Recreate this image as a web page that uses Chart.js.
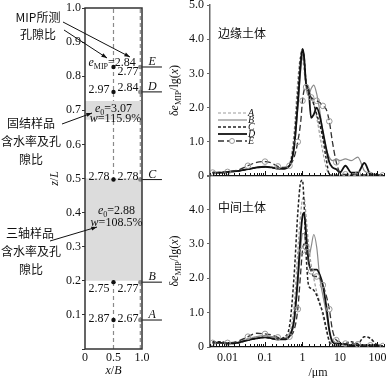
<!DOCTYPE html>
<html>
<head>
<meta charset="utf-8">
<script src="https://cdn.jsdelivr.net/npm/chart.js@4.4.1/dist/chart.umd.min.js"></script>
<style>
  body { margin: 0; background: #fff; width: 391px; height: 378px; position: relative; overflow: hidden; }
  canvas { position: absolute; }
</style>
</head>
<body>
<canvas id="left" width="200" height="378" style="left:0;top:0"></canvas>
<canvas id="edge" width="231" height="190" style="left:160px;top:0"></canvas>
<canvas id="mid" width="231" height="208" style="left:160px;top:170px"></canvas>
<script>
// ---- left panel data ----
const levelNames = ['A', 'B', 'C', 'D', 'E'];
const levelY = [0.085, 0.196, 0.497, 0.754, 0.827];      // z/L of sampling points
const centreRatio = [2.87, 2.75, 2.78, 2.97, 2.84];     // e_MIP at x/B = 0.5
const edgeRatio = [2.67, 2.77, 2.78, 2.84, 2.77];       // e_MIP at x/B = 1.0
const centreX = 0.5;
const edgeX = 0.97;
const triaxialBand = [0.2, 0.5];
const consolBand = [0.672, 0.727];
const triaxialSample = ['2.88', '108.5%'];
const consolSample = ['3.07', '115.9%'];

// ---- right panels data ----
const poreSize = [0.004, 0.007, 0.01, 0.02, 0.035, 0.06, 0.1, 0.15, 0.22, 0.32, 0.45, 0.6, 0.75, 0.9, 1.0, 1.1, 1.25,
  1.45, 1.7, 2.0, 2.4, 2.9, 3.5, 4.3, 5.2, 6.3, 8, 10, 14, 20, 30, 45, 65, 100, 140];

const edgeA = [0.08,0.1,0.12,0.15,0.2,0.24,0.26,0.25,0.22,0.22,0.35,1.3,2.8,3.5,3.45,3.1,2.6,2.4,2.3,2.1,1.7,1.2,0.7,0.25,0.05,0.02,0.02,0.02,0.02,0.02,0.02,0.02,0.02,0.02,0.02];
const edgeB = [0.1,0.1,0.12,0.15,0.2,0.24,0.26,0.25,0.2,0.2,0.3,0.8,2.0,3.1,3.55,3.4,2.6,2.35,2.55,2.66,2.4,1.9,1.3,0.8,0.55,0.45,0.5,0.45,0.5,0.45,0.55,0.15,0.08,0.05,0.03];
const edgeC = [0.1,0.1,0.12,0.15,0.2,0.25,0.27,0.25,0.22,0.22,0.32,1.0,2.4,3.5,3.7,3.5,2.7,2.5,2.3,2.1,1.8,1.5,1.1,0.5,0.05,0.02,0.02,0.02,0.02,0.02,0.02,0.02,0.02,0.02,0.02];
const edgeD = [0.1,0.1,0.12,0.15,0.2,0.25,0.27,0.25,0.22,0.22,0.3,0.85,2.1,3.3,3.72,3.5,2.7,2.55,1.7,1.8,2.0,1.75,1.3,0.8,0.4,0.25,0.2,0.1,0.3,0.1,0.1,0.38,0.05,0.02,0.02];
const edgeE = [0.1,0.1,0.12,0.18,0.3,0.4,0.42,0.38,0.28,0.25,0.3,0.55,1.0,1.6,2.2,2.5,2.6,2.45,2.3,2.25,2.2,2.15,2.05,1.95,1.6,1.0,0.4,0.1,0.05,0.05,0.05,0.03,0.03,0.02,0.02];

const midA = [0.15,0.15,0.12,0.15,0.25,0.3,0.32,0.3,0.25,0.25,0.4,1.2,2.8,3.9,4.3,4.35,3.8,3.0,2.4,2.0,1.6,1.3,0.9,0.5,0.2,0.08,0.05,0.05,0.05,0.05,0.05,0.05,0.05,0.05,0.03];
const midB = [0.15,0.12,0.1,0.13,0.22,0.3,0.33,0.3,0.25,0.24,0.3,0.7,1.8,2.9,3.3,3.3,2.9,2.6,2.9,3.27,2.9,2.0,1.5,1.0,0.45,0.2,0.12,0.1,0.08,0.06,0.05,0.05,0.05,0.05,0.03];
const midC = [0.15,0.15,0.1,0.12,0.2,0.25,0.28,0.25,0.22,0.28,0.6,2.1,3.9,4.8,4.85,4.2,2.7,1.8,1.7,1.65,1.5,1.25,1.0,0.55,0.15,0.02,0.02,0.05,0.1,0.15,0.1,0.3,0.25,0.05,0.02];
const midD = [0.12,0.12,0.1,0.13,0.2,0.25,0.28,0.25,0.22,0.22,0.32,0.8,2.0,3.3,3.8,3.9,3.3,2.5,2.25,2.25,2.25,2.1,1.8,1.2,0.5,0.15,0.1,0.1,0.08,0.05,0.05,0.05,0.05,0.05,0.03];
const midE = [0.12,0.12,0.12,0.18,0.3,0.4,0.38,0.35,0.28,0.25,0.3,0.5,1.1,2.2,2.8,3.0,2.9,2.5,2.2,2.05,2.05,2.0,1.8,1.5,1.1,0.5,0.2,0.15,0.1,0.1,0.08,0.05,0.05,0.05,0.03];

const SERIF = '"Liberation Serif","DejaVu Serif",serif';
const CJK = '"Noto Sans CJK SC","Noto Sans CJK JP",sans-serif';
const f12 = '12px ' + SERIF, i12 = 'italic 12px ' + SERIF, s8 = '8px ' + SERIF;

// draw a run of text pieces with different fonts (for subscripts / italics)
function rich(ctx, x, y, parts, align) {
  let w = 0;
  parts.forEach(p => { ctx.font = p.f; p.w = ctx.measureText(p.t).width; w += p.w; });
  let cx = align === 'center' ? x - w / 2 : align === 'right' ? x - w : x;
  ctx.textAlign = 'left';
  ctx.textBaseline = 'alphabetic';
  parts.forEach(p => { ctx.font = p.f; ctx.fillText(p.t, cx, y + (p.dy || 0)); cx += p.w; });
}

function arrow(ctx, x1, y1, x2, y2) {
  const a = Math.atan2(y2 - y1, x2 - x1);
  ctx.beginPath();
  ctx.moveTo(x1, y1); ctx.lineTo(x2, y2); ctx.stroke();
  ctx.beginPath();
  ctx.moveTo(x2, y2);
  ctx.lineTo(x2 - 6 * Math.cos(a - 0.35), y2 - 6 * Math.sin(a - 0.35));
  ctx.lineTo(x2 - 6 * Math.cos(a + 0.35), y2 - 6 * Math.sin(a + 0.35));
  ctx.closePath(); ctx.fill();
}

function zeroPad(s) { s.paddingTop = 0; s.paddingBottom = 0; s.paddingLeft = 0; s.paddingRight = 0; }

// ---------- left panel ----------
function band(r) {
  return {
    data: [{ x: 0, y: r[1] }, { x: 1, y: r[1] }], showLine: true, pointRadius: 0,
    borderColor: 'rgba(0,0,0,0)', borderWidth: 0, fill: { value: r[0] }, backgroundColor: '#dcdcdc'
  };
}
function vline(x) {
  return {
    data: [{ x, y: 0 }, { x, y: 1 }], showLine: true, pointRadius: 0,
    borderColor: '#8a8a8a', borderWidth: 1.2, borderDash: [4, 3]
  };
}

const leftDecor = {
  id: 'leftDecor',
  afterDatasetsDraw(chart) {
    const { ctx, chartArea: ca, scales: { x, y } } = chart;
    ctx.save();
    ctx.strokeStyle = '#333'; ctx.lineWidth = 1.5;
    ctx.strokeRect(ca.left, ca.top, ca.right - ca.left, ca.bottom - ca.top);
    ctx.fillStyle = '#111';
    const cx = x.getPixelForValue(centreX);
    const dy = [2, 10, 0, 1, 0];
    levelY.forEach((lv, i) => {
      const py = y.getPixelForValue(lv);
      if (i === 4) {
        rich(ctx, cx - 25, py - 1, [{ t: 'e', f: i12 }, { t: 'MIP', f: s8, dy: 3 }, { t: '=' + centreRatio[i], f: f12 }], 'left');
        rich(ctx, cx + 4, py + 8, [{ t: edgeRatio[i].toFixed(2), f: f12 }], 'left');
      } else {
        rich(ctx, cx - 4, py + dy[i], [{ t: centreRatio[i].toFixed(2), f: f12 }], 'right');
        rich(ctx, cx + 4, py + dy[i] - (i === 3 ? 2 : 0), [{ t: edgeRatio[i].toFixed(2), f: f12 }], 'left');
      }
      rich(ctx, x.getPixelForValue(1.18), py - 2, [{ t: levelNames[i], f: i12 }], 'center');
    });
    // sample water content / void ratio
    const bc = y.getPixelForValue((consolBand[0] + consolBand[1]) / 2);
    rich(ctx, cx, bc + 2, [{ t: 'e', f: i12 }, { t: '0', f: s8, dy: 3 }, { t: '=' + consolSample[0], f: f12 }], 'center');
    rich(ctx, cx + 2, bc + 12, [{ t: 'w', f: i12 }, { t: '=' + consolSample[1], f: f12 }], 'center');
    const bt = y.getPixelForValue(0.38);
    rich(ctx, cx + 3, bt - 5, [{ t: 'e', f: i12 }, { t: '0', f: s8, dy: 3 }, { t: '=' + triaxialSample[0], f: f12 }], 'center');
    rich(ctx, cx + 3, bt + 7, [{ t: 'w', f: i12 }, { t: '=' + triaxialSample[1], f: f12 }], 'center');
    // Chinese annotations
    ctx.font = '12px ' + CJK; ctx.textAlign = 'center'; ctx.textBaseline = 'middle';
    ctx.fillText('MIP所测', 38, 17);
    ctx.fillText('孔隙比', 38, 34);
    ctx.fillText('固结样品', 31, 123);
    ctx.fillText('含水率及孔', 31, 141);
    ctx.fillText('隙比', 31, 159);
    ctx.fillText('三轴样品', 30, 233);
    ctx.fillText('含水率及孔', 31, 251);
    ctx.fillText('隙比', 31, 269);
    ctx.strokeStyle = '#111'; ctx.lineWidth = 1;
    arrow(ctx, 63, 22, 130, 57);
    arrow(ctx, 64, 30, 107, 58);
    arrow(ctx, 62, 124, 92, 113);
    arrow(ctx, 50, 241, 97, 227);
    // axis titles
    rich(ctx, (ca.left + ca.right) / 2, 374, [{ t: 'x', f: i12 }, { t: '/', f: f12 }, { t: 'B', f: i12 }], 'center');
    ctx.translate(58, (ca.top + ca.bottom) / 2);
    ctx.rotate(-Math.PI / 2);
    rich(ctx, 0, 0, [{ t: 'z', f: i12 }, { t: '/', f: f12 }, { t: 'L', f: i12 }], 'center');
    ctx.restore();
  }
};

new Chart(document.getElementById('left'), {
  type: 'scatter',
  data: {
    datasets: [
      { data: levelY.map(v => ({ x: centreX, y: v })), pointRadius: 2.2, pointBackgroundColor: '#111', pointBorderWidth: 0 },
      { data: levelY.map(v => ({ x: edgeX, y: v })), pointRadius: 2.2, pointBackgroundColor: '#888', pointBorderWidth: 0 },
      band(triaxialBand),
      band(consolBand),
      vline(centreX),
      vline(edgeX),
      ...levelY.map(v => ({
        data: [{ x: 1, y: v }, { x: 1.35, y: v }], showLine: true, pointRadius: 0,
        borderColor: '#222', borderWidth: 1.1, clip: false
      }))
    ]
  },
  options: {
    responsive: false, animation: false,
    layout: { padding: { top: 8, right: 58, left: 0, bottom: 0 } },
    plugins: { legend: { display: false }, tooltip: { enabled: false } },
    scales: {
      x: {
        type: 'linear', min: 0, max: 1,
        afterBuildTicks: s => { s.ticks = [{ value: 0 }, { value: 0.5 }, { value: 1 }]; },
        grid: { display: false, drawTicks: false }, border: { display: false },
        ticks: { padding: 2, color: '#111', font: { family: SERIF, size: 12 }, maxRotation: 0,
          callback: v => v === 0 ? '0' : v.toFixed(1) },
        afterFit: s => { s.height = 29; zeroPad(s); }
      },
      y: {
        min: 0, max: 1,
        grid: { drawOnChartArea: false, tickLength: 3, color: '#333' }, border: { display: false },
        ticks: { stepSize: 0.1, padding: 1, color: '#111', font: { family: SERIF, size: 12 },
          callback: v => v === 0 ? '' : v.toFixed(1) },
        afterFit: s => { s.width = 85; zeroPad(s); }
      }
    }
  },
  plugins: [leftDecor]
});

// ---------- right panels ----------
const lineStyles = {
  A: { borderColor: '#9b9b9b', borderWidth: 1.2, borderDash: [3, 2] },
  B: { borderColor: '#8a8a8a', borderWidth: 1.2, borderDash: [] },
  C: { borderColor: '#222', borderWidth: 1.5, borderDash: [3, 2] },
  D: { borderColor: '#111', borderWidth: 1.8, borderDash: [] },
  E: { borderColor: '#333', borderWidth: 1.3, borderDash: [6, 3] }
};

function makeSeries(values, name) {
  return Object.assign({
    label: name,
    data: poreSize.map((x, i) => ({ x, y: values[i] })),
    showLine: true, cubicInterpolationMode: 'monotone', fill: false,
    pointRadius: name === 'E' ? (c => c.dataIndex % 2 ? 0 : 2.8) : 0,
    pointBorderColor: '#999', pointBackgroundColor: 'rgba(255,255,255,0)', pointBorderWidth: 1
  }, lineStyles[name]);
}

function isDecade(v) { const l = Math.log10(v); return Math.abs(l - Math.round(l)) < 1e-6; }

function panelDecor(opts) {
  return {
    id: 'panelDecor',
    afterDatasetsDraw(chart) {
      const { ctx, chartArea: ca, scales: { x } } = chart;
      ctx.save();
      // inward log ticks
      ctx.strokeStyle = '#111'; ctx.lineWidth = 1;
      x.ticks.forEach(t => {
        if (t.value < x.min || t.value > x.max) return;
        const px = Math.round(x.getPixelForValue(t.value)) + 0.5;
        const len = isDecade(t.value) ? 5 : 3;
        ctx.beginPath(); ctx.moveTo(px, ca.bottom); ctx.lineTo(px, ca.bottom - len); ctx.stroke();
      });
      ctx.fillStyle = '#111';
      ctx.font = '12px ' + CJK; ctx.textAlign = 'left'; ctx.textBaseline = 'middle';
      ctx.fillText(opts.label, ca.left + 8, ca.top + opts.labelDy);
      if (opts.legend) {
        levelNames.forEach((n, i) => {
          const st = lineStyles[n];
          const ly = ca.top + 108 + i * 7;
          ctx.strokeStyle = st.borderColor; ctx.lineWidth = st.borderWidth;
          ctx.setLineDash(st.borderDash);
          ctx.beginPath(); ctx.moveTo(ca.left + 8, ly); ctx.lineTo(ca.left + 37, ly); ctx.stroke();
          ctx.setLineDash([]);
          if (n === 'E') {
            ctx.strokeStyle = '#999'; ctx.lineWidth = 1;
            ctx.beginPath(); ctx.arc(ca.left + 22, ly, 2.5, 0, Math.PI * 2);
            ctx.fillStyle = '#fff'; ctx.fill(); ctx.stroke();
            ctx.fillStyle = '#111';
          }
          rich(ctx, ca.left + 38, ly + 3, [{ t: n, f: 'italic 10px ' + SERIF }], 'left');
        });
      }
      if (opts.xTitle) {
        rich(ctx, ca.left + 108, ca.bottom + 29, [{ t: '/μm', f: f12 }], 'center');
      }
      ctx.translate(ca.left - 32, (ca.top + ca.bottom) / 2);
      ctx.rotate(-Math.PI / 2);
      rich(ctx, 0, 0, [{ t: 'δ', f: f12 }, { t: 'e', f: i12 }, { t: 'MIP', f: s8, dy: 3 },
        { t: '/lg(', f: f12 }, { t: 'x', f: i12 }, { t: ')', f: f12 }], 'center');
      ctx.restore();
    }
  };
}

function panel(id, vals, opts) {
  return new Chart(document.getElementById(id), {
    type: 'scatter',
    data: { datasets: levelNames.map((n, i) => makeSeries(vals[i], n)).reverse() },
    options: {
      responsive: false, animation: false,
      layout: { padding: { top: 5, right: 7, left: 0, bottom: 0 } },
      plugins: { legend: { display: false }, tooltip: { enabled: false } },
      scales: {
        x: {
          type: 'logarithmic', min: 0.0034, max: 150,
          grid: { display: false, drawTicks: false }, border: { display: true, color: '#111', width: 1.2 },
          ticks: { display: opts.showX, autoSkip: false, maxRotation: 0, padding: 4, color: '#111',
            font: { family: SERIF, size: 12 },
            callback: v => isDecade(v) ? String(+v.toPrecision(2)) : '' },
          afterFit: s => { s.height = opts.xh; zeroPad(s); }
        },
        y: {
          min: 0, max: 5,
          grid: { drawOnChartArea: false, tickLength: 3, color: '#666' },
          border: { color: '#666', width: 1.5 },
          ticks: { stepSize: 0.5, padding: 3, color: '#111', font: { family: SERIF, size: 12 },
            callback: v => (v === 5 && !opts.show5) ? '' : v === 0 ? '0' : v.toFixed(1) },
          afterFit: s => { s.width = 50; zeroPad(s); }
        }
      }
    },
    plugins: [panelDecor(opts)]
  });
}

panel('edge', [edgeA, edgeB, edgeC, edgeD, edgeE],
  { showX: false, xh: 14, show5: true, label: '边缘土体', labelDy: 28, legend: true });
panel('mid', [midA, midB, midC, midD, midE],
  { showX: true, xh: 31, show5: false, label: '中间土体', labelDy: 32, xTitle: true });
</script>
</body>
</html>
